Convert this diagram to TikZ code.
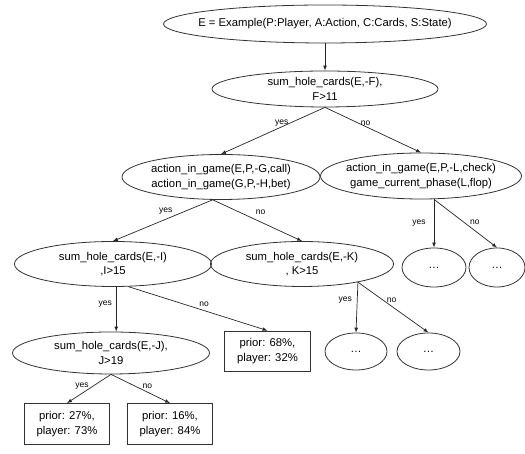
\documentclass[tikz,border=0pt]{standalone}
\usepackage{fontspec}
\setmainfont{Liberation Sans}
\usetikzlibrary{shapes.geometric, arrows}

\begin{document}
\begin{tikzpicture}[x=1pt, y=1pt, >=latex,
  every node/.style={font=\fontsize{11.3}{14.5}\selectfont},
  cond/.style={ellipse, draw=black!80, line width=0.8pt, inner xsep=-16pt, inner ysep=-2pt, align=center},
  rest/.style={ellipse, draw=black!80, line width=0.8pt, inner sep=0pt},
  leaf/.style={rectangle, draw=black!80, line width=0.8pt, inner sep=0pt, align=center, minimum width=86pt, minimum height=40pt},
  lbl/.style={font=\fontsize{8.5}{10}\selectfont, inner sep=1pt},
  link/.style={->, draw=black!85, line width=0.7pt}]
  \useasboundingbox (0,0) rectangle (525,454);
  \node[cond, minimum width=323pt, minimum height=38pt] (root) at (325,430) {E = Example(P:Player, A:Action, C:Cards, S:State)};
  \node[cond, minimum width=226pt, minimum height=36pt] (hcF) at (325,365) {sum\_hole\_cards(E,-F),\\F>11};
  \node[cond, minimum width=198pt, minimum height=45pt] (callbet) at (221,277) {action\_in\_game(E,P,-G,call)\\action\_in\_game(G,P,-H,bet)};
  \node[cond, minimum width=201pt, minimum height=46pt] (checkflop) at (421,278) {action\_in\_game(E,P,-L,check)\\game\_current\_phase(L,flop)};
  \node[cond, minimum width=197pt, minimum height=45pt] (hcI) at (113,190) {sum\_hole\_cards(E,-I)\\,I>15};
  \node[cond, minimum width=183pt, minimum height=45pt] (hcK) at (302,190) {sum\_hole\_cards(E,-K)\\, K>15};
  \node[rest, minimum width=64pt, minimum height=39pt] (restA) at (434,186.5) {\ldots};
  \node[rest, minimum width=56pt, minimum height=39pt] (restB) at (497,186.5) {\ldots};
  \node[cond, minimum width=197pt, minimum height=42pt] (hcJ) at (111,101) {sum\_hole\_cards(E,-J),\\J>19};
  \node[leaf] (leafI) at (267.5,103) {prior: 68\%,\\player: 32\%};
  \node[rest, minimum width=62pt, minimum height=37pt] (restC) at (356,102.5) {\ldots};
  \node[rest, minimum width=63pt, minimum height=37pt] (restD) at (428.5,102.5) {\ldots};
  \node[leaf, minimum width=85pt, minimum height=41pt] (leafJy) at (67,30) {prior: 27\%,\\player: 73\%};
  \node[leaf, minimum width=85pt, minimum height=41pt] (leafJn) at (170,30) {prior: 16\%,\\player: 84\%};

  \draw[link] (root) -- (hcF);
  \draw[link] (hcF.south) -- node[lbl, pos=0.34, left] {yes} (callbet.north);
  \draw[link] (hcF.south) -- node[lbl, pos=0.36, right] {no} (checkflop.north);
  \draw[link] (callbet.-110) -- node[lbl, pos=0.28, left=11pt] {yes} (hcI.north);
  \draw[link] (callbet.-110) -- node[lbl, pos=0.3, right=15pt] {no} (hcK.north);
  \draw[link] (checkflop.south -| restA) -- node[lbl, pos=0.5, left=7pt] {yes} (restA.north);
  \draw[link] (checkflop.south -| restA) -- node[lbl, pos=0.48, right=4.5pt] {no} (restB.north);
  \draw[link] (hcI.-82) -- node[lbl, pos=0.38, left=3pt] {yes} (hcI.-82 |- hcJ.north);
  \draw[link] (hcI.-56) -- node[lbl, pos=0.4, right=14pt] {no} (leafI.north);
  \draw[link] (hcK.-18.6) -- node[lbl, pos=0.35, left=4pt] {yes} (restC.north);
  \draw[link] (hcK.-18.6) -- node[lbl, pos=0.35, right=3pt] {no} (restD.north);
  \draw[link] (hcJ.south) -- node[lbl, pos=0.41, left=3pt] {yes} (leafJy.north);
  \draw[link] (hcJ.south) -- node[lbl, pos=0.41, right=6pt] {no} (leafJn.north);
\end{tikzpicture}
\end{document}
